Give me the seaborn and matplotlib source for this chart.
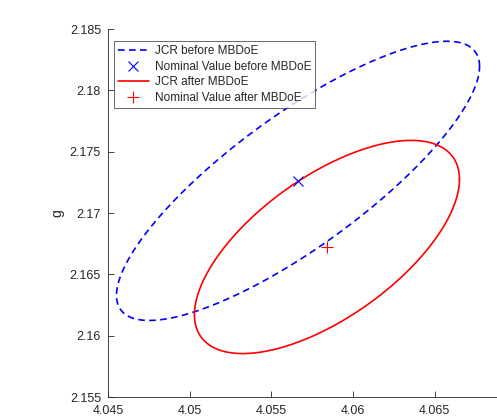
import numpy as np
import pandas as pd
import matplotlib
matplotlib.use('Agg')
import matplotlib.pyplot as plt
import seaborn as sns

# Joint confidence regions (centre, half-width in x, half-height in y, correlation)
labels = ['before MBDoE', 'after MBDoE']
center_x = [4.05663, 4.05840]
center_y = [2.17262, 2.16723]
half_x = [0.01111, 0.00811]
half_y = [0.01138, 0.00869]
rho = [0.82, 0.635]

x_ticks = [4.045, 4.05, 4.055, 4.06, 4.065]
x_ticklabels = ['4.045', '4.05', '4.055', '4.06', '4.065']
y_ticks = [2.155, 2.16, 2.165, 2.17, 2.175, 2.18, 2.185]
y_ticklabels = ['2.155', '2.16', '2.165', '2.17', '2.175', '2.18', '2.185']

sns.set_style('white')
plt.rcParams['font.family'] = ['Liberation Sans', 'DejaVu Sans']

fig = plt.figure(figsize=(4.97, 4.16), dpi=100)
ax = fig.add_axes([108/497, 1-397/416, 408.5/497, 368/416])

def ellipse(i):
    t = np.linspace(0, 2*np.pi, 361)
    ex = center_x[i] + half_x[i]*np.cos(t)
    ey = center_y[i] + half_y[i]*(rho[i]*np.cos(t) + np.sqrt(1-rho[i]**2)*np.sin(t))
    return pd.DataFrame({'x': ex, 'y': ey})

#before
d0 = ellipse(0)
sns.lineplot(data=d0, x='x', y='y', sort=False, estimator=None, color='blue',
             linewidth=1.2, dashes=False, ax=ax, label='JCR before MBDoE')
ax.lines[-1].set_dashes((4, 2.6))
ax.plot([center_x[0]], [center_y[0]], linestyle='none', marker='x', color='blue',
        markersize=7, markeredgewidth=0.8, label='Nominal Value before MBDoE', zorder=5)
#after
d1 = ellipse(1)
sns.lineplot(data=d1, x='x', y='y', sort=False, estimator=None, color='red',
             linewidth=1.2, ax=ax, label='JCR after MBDoE')
ax.plot([center_x[1]], [center_y[1]], linestyle='none', marker='+', color='red',
        markersize=8, markeredgewidth=0.8, label='Nominal Value after MBDoE', zorder=5)

ax.set_xlim(4.045, 4.07)
ax.set_ylim(2.155, 2.185)
ax.set_xticks(x_ticks)
ax.set_xticklabels(x_ticklabels)
ax.set_yticks(y_ticks)
ax.set_yticklabels(y_ticklabels)
ax.set_xlabel('')
ax.set_ylabel('g', fontsize=10, color='#262626', labelpad=4)
for s in ['top', 'right']:
    ax.spines[s].set_visible(False)
for s in ['left', 'bottom']:
    ax.spines[s].set_color('#262626')
    ax.spines[s].set_linewidth(0.6)
ax.tick_params(direction='in', length=4, width=0.6, colors='#262626', labelsize=9,
               left=True, bottom=True)
ax.tick_params(axis='x', pad=6)
ax.tick_params(axis='y', pad=5)

leg = ax.legend(loc='upper left', bbox_to_anchor=(6/408.5, 1-12/368), fontsize=8.5,
                frameon=True, fancybox=False, borderpad=0.35, labelspacing=0.3,
                handlelength=2.6, handletextpad=0.5, borderaxespad=0)
leg.get_frame().set_edgecolor('#262626')
leg.get_frame().set_linewidth(0.6)

fig.savefig('out.png', dpi=100)
plt.close()
